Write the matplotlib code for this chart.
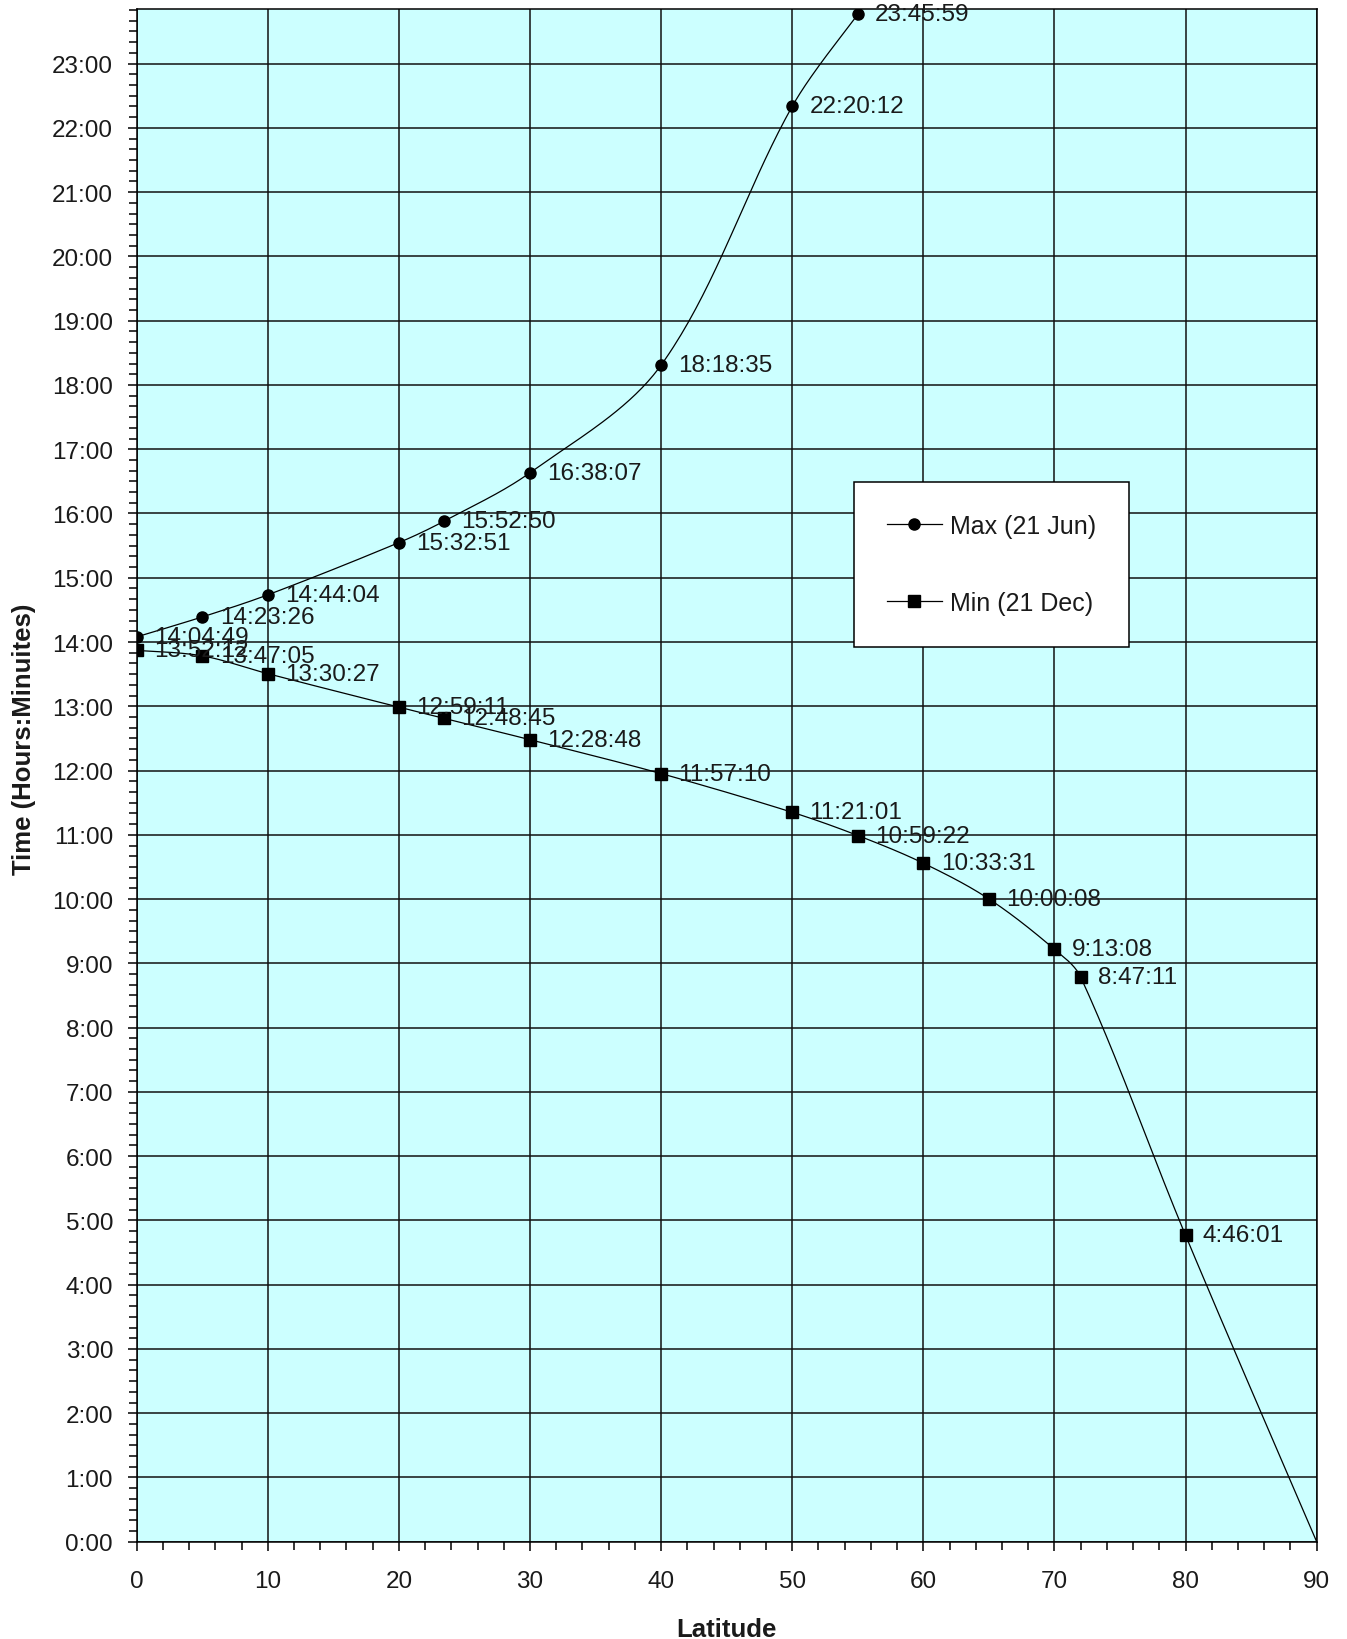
"""
Day length (with twilight) vs latitude
"""

import matplotlib.pyplot as plt
import numpy as np
from matplotlib.ticker import FixedLocator, MultipleLocator

plt.rcParams.update(
    {
        "font.family": ["Liberation Sans", "DejaVu Sans"],
        "font.size": 17.5,
        "figure.dpi": 100,
    }
)

BG = "#CCFFFF"
INK = "#1a1a1a"

# max day length, 21 Jun
max_lat = [0, 5, 10, 20, 23.44, 30, 40, 50, 55]
max_time = ["14:04:49", "14:23:26", "14:44:04", "15:32:51", "15:52:50",
            "16:38:07", "18:18:35", "22:20:12", "23:45:59"]

# min day length, 21 Dec (last point at the pole has no marker / label)
min_lat = [0, 5, 10, 20, 23.44, 30, 40, 50, 55, 60, 65, 70, 72, 80, 90]
min_time = ["13:52:12", "13:47:05", "13:30:27", "12:59:11", "12:48:45",
            "12:28:48", "11:57:10", "11:21:01", "10:59:22", "10:33:31",
            "10:00:08", "9:13:08", "8:47:11", "4:46:01", "0:00:00"]

hour_ticks = list(range(0, 24))
lat_ticks = list(range(0, 91, 10))

X_MAX, Y_MAX = 90, 23.85


def to_hours(s):
    h, m, sec = (int(v) for v in s.split(":"))
    return h + m / 60 + sec / 3600


def smooth(x, y, sx, sy, n=40):
    # smoothed line like a spreadsheet: Bezier per segment, tangents scaled
    # by segment length (in screen-ish units) so short segments don't loop
    pts = np.column_stack([np.asarray(x, float) * sx, np.asarray(y, float) * sy])
    p = np.vstack([pts[0], pts, pts[-1]])
    d = np.linalg.norm(np.diff(p, axis=0), axis=1)
    t = np.linspace(0, 1, n)[:, None]
    segs = []
    for i in range(len(pts) - 1):
        p0, p1, p2, p3 = p[i], p[i + 1], p[i + 2], p[i + 3]
        d01, d12, d23 = d[i], d[i + 1], d[i + 2]
        f1 = 2 * d12 / (d01 + d12) if d01 > 0 else 1.0
        f2 = 2 * d12 / (d12 + d23) if d23 > 0 else 1.0
        c1 = p1 + (p2 - p0) / 6 * f1
        c2 = p2 - (p3 - p1) / 6 * f2
        segs.append((1 - t) ** 3 * p1 + 3 * (1 - t) ** 2 * t * c1
                    + 3 * (1 - t) * t ** 2 * c2 + t ** 3 * p2)
    xy = np.vstack(segs)
    return xy[:, 0] / sx, xy[:, 1] / sy


max_h = [to_hours(s) for s in max_time]
min_h = [to_hours(s) for s in min_time]

fig = plt.figure(figsize=(13.47, 16.40))
ax = fig.add_axes([0.1015, 0.0593, 0.876, 0.9346])
ax.set_facecolor(BG)

# pixel scale of the axes, for the smoothing
px_x = 1180 / X_MAX
px_y = 1532.7 / Y_MAX

for lat, hrs, labels, marker, name, n_mark in [
    (max_lat, max_h, max_time, "o", "Max (21 Jun)", len(max_lat)),
    (min_lat, min_h, min_time, "s", "Min (21 Dec)", len(min_lat) - 1),
]:
    cx, cy = smooth(lat, hrs, px_x, px_y)
    ax.plot(cx, cy, color="black", lw=0.9, zorder=3)
    ax.plot(lat[:n_mark], hrs[:n_mark], ls="none", marker=marker, ms=8,
            color="black", zorder=4)
    ax.plot([], [], color="black", lw=0.9, marker=marker, ms=8, label=name)
    for x, y, s in zip(lat[:n_mark], hrs[:n_mark], labels[:n_mark]):
        ax.annotate(s, (x, y), textcoords="offset points", xytext=(12.5, 0),
                    ha="left", va="center", fontsize=17.5, color=INK,
                    zorder=5, annotation_clip=False)

ax.set_xlim(0, X_MAX)
ax.set_ylim(0, Y_MAX)
ax.xaxis.set_major_locator(FixedLocator(lat_ticks))
ax.xaxis.set_minor_locator(MultipleLocator(2))
ax.yaxis.set_major_locator(FixedLocator(hour_ticks))
ax.yaxis.set_minor_locator(MultipleLocator(1 / 6))
ax.set_yticklabels([f"{h}:00" for h in hour_ticks])

ax.grid(True, which="major", color="#111111", lw=1.1)
ax.set_axisbelow(True)
ax.tick_params(which="major", direction="out", length=6.5, width=1.1,
               color="black", labelcolor=INK, labelsize=17.5)
ax.tick_params(which="minor", direction="out", length=5.5, width=1.1,
               color="black")
ax.tick_params(axis="x", which="major", pad=14)
ax.tick_params(axis="y", which="major", pad=10.5)
for sp in ax.spines.values():
    sp.set_color("black")
    sp.set_linewidth(1.1)

ax.set_xlabel("Latitude", fontsize=18.5, fontweight="bold", color=INK)
ax.set_ylabel("Time (Hours:Minuites)", fontsize=18.5, fontweight="bold", color=INK)
ax.xaxis.set_label_coords(0.5, -0.049)
ax.yaxis.set_label_coords(-0.085, 0.524)

leg = ax.legend(loc="upper left", bbox_to_anchor=(0.608, 0.6916),
                borderaxespad=0, frameon=True, fancybox=False, shadow=False,
                framealpha=1, edgecolor="black", fontsize=18,
                handlelength=2.2, handletextpad=0.35, borderpad=1.3,
                labelspacing=2.1)
leg.get_frame().set_linewidth(1.1)
for t in leg.get_texts():
    t.set_color(INK)

fig.savefig("out.png", dpi=100, facecolor="white")
plt.close(fig)
